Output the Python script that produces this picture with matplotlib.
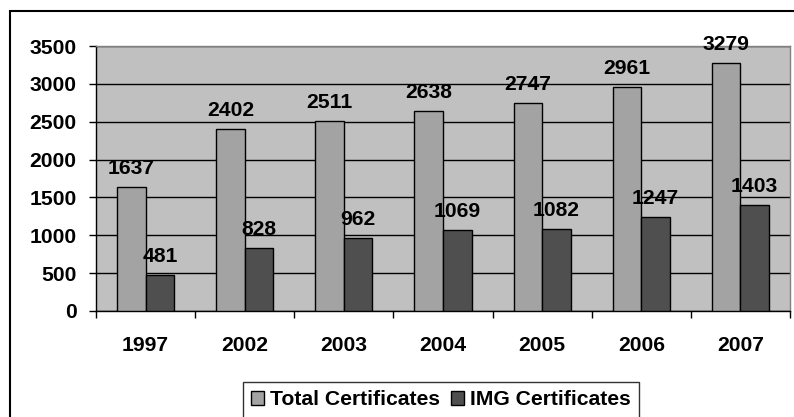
import matplotlib.pyplot as plt
import numpy as np
from matplotlib.patches import Rectangle

# datos
years = ['1997', '2002', '2003', '2004', '2005', '2006', '2007']
total_certs = [1637, 2402, 2511, 2638, 2747, 2961, 3279]
img_certs = [481, 828, 962, 1069, 1082, 1247, 1403]

plt.rcParams['font.family'] = ['Liberation Sans', 'DejaVu Sans']
plt.rcParams['font.weight'] = 'bold'
FS = 15.2

W, H = 794, 417
fig = plt.figure(figsize=(W / 100, H / 100), dpi=100)
ax = fig.add_axes([96 / W, (H - 311) / H, 694 / W, 265 / H])
ax.set_facecolor('#C0C0C0')

x = np.arange(len(years))
bw = 0.288
b1 = ax.bar(x - bw / 2, total_certs, bw, color='#A3A3A3', edgecolor='black',
            linewidth=1, label='Total Certificates', zorder=3)
b2 = ax.bar(x + bw / 2, img_certs, bw, color='#4F4F4F', edgecolor='black',
            linewidth=1, label='IMG Certificates', zorder=3)

# etiquetas de valor encima de cada barra
for bars, vals in ((b1, total_certs), (b2, img_certs)):
    for rect, v in zip(bars, vals):
        ax.annotate(str(v), (rect.get_x() + rect.get_width() / 2, v),
                    xytext=(0, 6.5), textcoords='offset points',
                    ha='center', va='bottom', fontsize=FS, fontweight='bold')

ax.set_xlim(-0.5, len(years) - 0.5)
ax.set_ylim(0, 3500)
ax.set_yticks(range(0, 3501, 500))
ax.yaxis.grid(True, color='black', linewidth=1, zorder=1)
ax.set_axisbelow(True)

ax.set_xticks(np.arange(-0.5, len(years), 1))
ax.set_xticklabels([])
ax.set_xticks(x, minor=True)
ax.set_xticklabels(years, minor=True)
ax.tick_params(axis='x', which='major', length=5, width=1, direction='out')
ax.tick_params(axis='x', which='minor', length=0, pad=18, labelsize=FS)
ax.tick_params(axis='y', length=5, width=1, direction='out', pad=9, labelsize=FS)
for lbl in ax.get_xticklabels(minor=True) + ax.get_yticklabels():
    lbl.set_fontweight('bold')

for s in ('left', 'bottom'):
    ax.spines[s].set_color('black')
    ax.spines[s].set_linewidth(1)
for s in ('top', 'right'):
    ax.spines[s].set_color('#808080')
    ax.spines[s].set_linewidth(1)

leg = fig.legend(handles=[b1, b2], loc='upper left', ncol=2,
                 bbox_to_anchor=(243 / W, (H - 382) / H),
                 frameon=True, fancybox=False, edgecolor='black',
                 prop={'size': FS, 'weight': 'bold'},
                 handlelength=0.6, handleheight=0.6, handletextpad=0.3,
                 columnspacing=0.5, borderpad=0.4, borderaxespad=0)
leg.get_frame().set_linewidth(1)

# marco exterior del gráfico (cortado a la derecha y abajo)
fig.patches.append(Rectangle((10 / W, -0.1), 1.0, (H - 11) / H + 0.1,
                             transform=fig.transFigure, fill=False,
                             edgecolor='black', linewidth=1.5))

plt.savefig('out.png', dpi=100)
plt.close()
